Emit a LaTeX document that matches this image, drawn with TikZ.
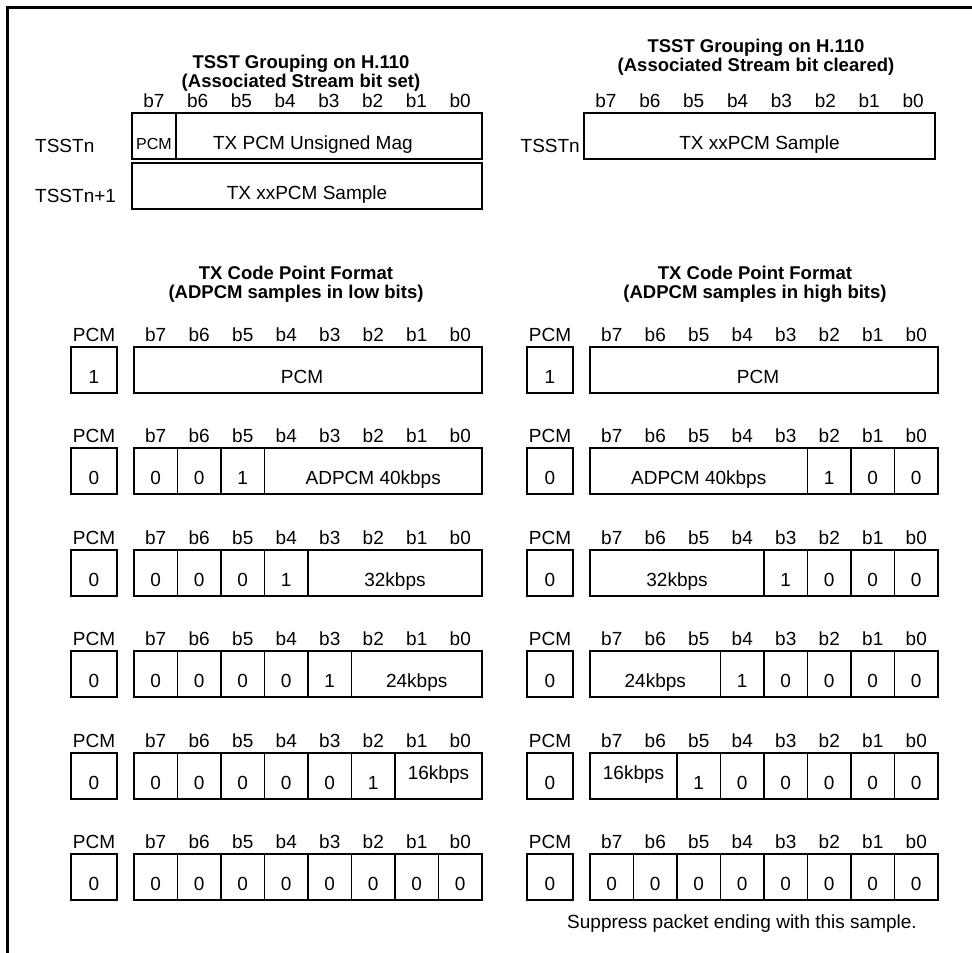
\documentclass[tikz,border=0pt]{standalone}
\usepackage{fontspec}
\setmainfont{Liberation Sans}
\begin{document}
\begin{tikzpicture}[x=1pt, y=-1pt,
        cell/.style={draw, line width=1.6pt, anchor=north west, inner sep=0pt, outer sep=0pt,
            minimum height=46pt, minimum width=43.5pt, text height=26pt, text depth=0pt,
            font=\fontsize{19}{22}\selectfont},
        raised/.style={text height=7pt},
        pcmbox/.style={cell, minimum width=46pt},
        bit/.style={anchor=base, inner sep=0pt, font=\fontsize{19}{22}\selectfont},
        heading/.style={anchor=base, inner sep=0pt, font=\bfseries\fontsize{18.5}{22}\selectfont},
        rowname/.style={inner sep=0pt, font=\fontsize{19}{22}\selectfont},
    ]
        \useasboundingbox (0,0) rectangle (972,953);
        \draw[line width=3pt] (7.5,953) -- (7.5,7.5) -- (972,7.5);

        % H.110 grouping
        \node[heading] (grpA1) at (301,68) {TSST Grouping on H.110};
        \node[heading] (grpA2) at (301,87) {(Associated Stream bit set)};
        \node[heading] (grpB1) at (756,52) {TSST Grouping on H.110};
        \node[heading] (grpB2) at (756,71) {(Associated Stream bit cleared)};

        \foreach \b in {0,...,7} {
            \node[bit] (topL\b) at ({132+43.75*(7.5-\b)},107) {b\b};
            \node[bit] (topR\b) at ({584+43.875*(7.5-\b)},107) {b\b};
        }

        \node[rowname, anchor=base west] (tsstA) at (35,152) {TSSTn};
        \node[rowname, anchor=base west] (tsstB) at (35,202) {TSSTn+1};
        \node[rowname, anchor=base east] (tsstC) at (580,152) {TSSTn};

        \node[cell, minimum width=43.75pt, font=\fontsize{16}{18}\selectfont] (tsstpcm) at (132,113) {PCM};
        \node[cell, minimum width=306.25pt] (tsstmag) at (175.75,113) {\hspace*{-32pt}TX PCM Unsigned Mag};
        \node[cell, minimum width=350pt] (tsstnext) at (132,163) {TX xxPCM Sample};
        \node[cell, minimum width=351pt] (tsstclr) at (584,113) {TX xxPCM Sample};

        % code point formats
        \node[heading] (fmtL1) at (296,279) {TX Code Point Format};
        \node[heading] (fmtL2) at (296,298) {(ADPCM samples in low bits)};
        \node[heading] (fmtR1) at (755,279) {TX Code Point Format};
        \node[heading] (fmtR2) at (755,298) {(ADPCM samples in high bits)};

        \foreach \r/\t/\v in {1/347/1, 2/448/0, 3/550/0, 4/651/0, 5/753/0, 6/854/0} {
            \node[pcmbox] (pcmL\r) at (71,\t) {\v};
            \node[pcmbox] (pcmR\r) at (527,\t) {\v};
            \node[bit] (pcmLname\r) at ({94},{\t-5.5}) {PCM};
            \node[bit] (pcmRname\r) at ({550},{\t-5.5}) {PCM};
            \foreach \b in {0,...,7} {
                \node[bit] (bL\r\b) at ({134+43.5*(7.5-\b)},{\t-5.5}) {b\b};
                \node[bit] (bR\r\b) at ({590+43.5*(7.5-\b)},{\t-5.5}) {b\b};
            }
        }

        % low bits
        \node[cell, minimum width=348pt] (L1s) at (134,347) {\hspace*{-12pt}PCM};
        \foreach \k/\v in {0/0, 1/0, 2/1}
            \node[cell] (L2\k) at ({134+43.5*\k},448) {\v};
        \node[cell, minimum width=217.5pt] (L2s) at ({134+43.5*3},448) {ADPCM 40kbps};
        \foreach \k/\v in {0/0, 1/0, 2/0, 3/1}
            \node[cell] (L3\k) at ({134+43.5*\k},550) {\v};
        \node[cell, minimum width=174pt] (L3s) at ({134+43.5*4},550) {32kbps};
        \foreach \k/\v in {0/0, 1/0, 2/0, 3/0, 4/1}
            \node[cell] (L4\k) at ({134+43.5*\k},651) {\v};
        \node[cell, minimum width=130.5pt] (L4s) at ({134+43.5*5},651) {24kbps};
        \foreach \k/\v in {0/0, 1/0, 2/0, 3/0, 4/0, 5/1}
            \node[cell] (L5\k) at ({134+43.5*\k},753) {\v};
        \node[cell, raised, minimum width=87pt] (L5s) at ({134+43.5*6},753) {16kbps};
        \foreach \k in {0,...,7}
            \node[cell] (L6\k) at ({134+43.5*\k},854) {0};

        % high bits
        \node[cell, minimum width=348pt] (R1s) at (590,347) {\hspace*{-12pt}PCM};
        \node[cell, minimum width=217.5pt] (R2s) at (590,448) {ADPCM 40kbps};
        \foreach \k/\v in {5/1, 6/0, 7/0}
            \node[cell] (R2\k) at ({590+43.5*\k},448) {\v};
        \node[cell, minimum width=174pt] (R3s) at (590,550) {32kbps};
        \foreach \k/\v in {4/1, 5/0, 6/0, 7/0}
            \node[cell] (R3\k) at ({590+43.5*\k},550) {\v};
        \node[cell, minimum width=130.5pt] (R4s) at (590,651) {24kbps};
        \foreach \k/\v in {3/1, 4/0, 5/0, 6/0, 7/0}
            \node[cell] (R4\k) at ({590+43.5*\k},651) {\v};
        \node[cell, raised, minimum width=87pt] (R5s) at (590,753) {16kbps};
        \foreach \k/\v in {2/1, 3/0, 4/0, 5/0, 6/0, 7/0}
            \node[cell] (R5\k) at ({590+43.5*\k},753) {\v};
        \foreach \k in {0,...,7}
            \node[cell] (R6\k) at ({590+43.5*\k},854) {0};

        \node[rowname, anchor=base] (note) at (742,928) {Suppress packet ending with this sample.};
    \end{tikzpicture}
\end{document}
